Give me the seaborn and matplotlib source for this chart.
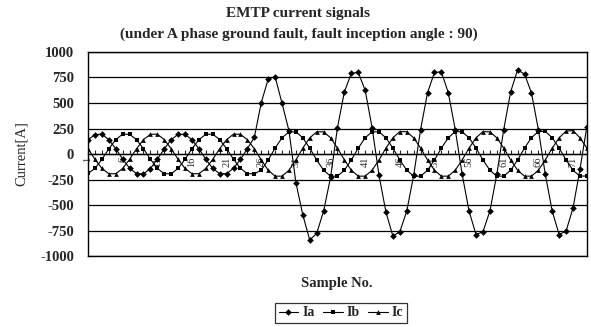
import matplotlib
matplotlib.use('Agg')
import matplotlib.pyplot as plt
import pandas as pd
import seaborn as sns

# sample numbers 1..73 (EMTP output, 12 samples per cycle)
samples = list(range(1, 74))

# values, in amperes
ia = [141, 190, 195, 140, 52, -50, -140, -192, -195, -142,
      -52, 50, 141, 193, 192, 140, 52, -52, -141, -193,
      -192, -140, -52, 52, 163, 503, 735, 758, 497, 228,
      -280, -598, -843, -778, -560, -230, 258, 610, 790, 800,
      625, 258, -210, -570, -804, -762, -560, -210, 240, 600,
      800, 805, 600, 240, -200, -560, -790, -762, -560, -200,
      240, 610, 824, 784, 600, 240, -200, -560, -790, -755,
      -530, -150, 268]
ib = [-190, -141, -52, 52, 141, 195, 193, 140, 52, -52,
      -141, -193, -194, -141, -52, 52, 141, 193, 195, 141,
      52, -52, -140, -193, -193, -159, -58, 58, 159, 217,
      217, 159, 58, -58, -159, -217, -217, -159, -58, 58,
      159, 218, 217, 159, 58, -58, -159, -217, -218, -159,
      -58, 58, 159, 220, 217, 159, 58, -58, -159, -217,
      -217, -159, -58, 58, 160, 220, 222, 159, 58, -58,
      -159, -217, -215]
ic = [52, -52, -141, -193, -193, -141, -52, 52, 141, 193,
      195, 141, 52, -52, -141, -193, -193, -141, -52, 52,
      141, 195, 193, 141, 52, -58, -159, -217, -217, -159,
      -58, 58, 159, 217, 218, 159, 58, -58, -159, -217,
      -217, -159, -58, 58, 159, 220, 218, 159, 58, -58,
      -159, -217, -217, -159, -58, 58, 159, 220, 217, 159,
      58, -58, -159, -217, -217, -159, -58, 58, 159, 225,
      230, 159, 58]

y_ticks = [-1000, -750, -500, -250, 0, 250, 500, 750, 1000]
x_label_ticks = list(range(1, 74, 5))

df = pd.DataFrame({
    'sample': samples * 3,
    'current': ia + ib + ic,
    'phase': ['Ia'] * len(ia) + ['Ib'] * len(ib) + ['Ic'] * len(ic),
})

sns.set_style('white')
plt.rcParams['font.family'] = ['Liberation Serif', 'DejaVu Serif']

fig = plt.figure(figsize=(5.91, 3.27), dpi=100)
ax = fig.add_axes([0.149, 0.217, 0.844, 0.624])

sns.lineplot(data=df, x='sample', y='current', hue='phase', style='phase',
             palette={'Ia': 'black', 'Ib': 'black', 'Ic': 'black'},
             markers={'Ia': 'D', 'Ib': 's', 'Ic': '^'}, dashes=False,
             markersize=3.4, markeredgewidth=0, linewidth=0.8, ax=ax, legend=False)

ax.set_xlim(1, 73)
ax.set_ylim(-1000, 1000)
ax.set_yticks(y_ticks)
ax.set_yticklabels([str(v) for v in y_ticks], fontsize=10.5, fontweight='bold')
ax.tick_params(axis='y', length=0, pad=10)
ax.set_xticks([])
ax.set_xlabel('')
ax.set_ylabel('Current[A]', fontsize=10.5, labelpad=9)
ax.set_axisbelow(True)
ax.yaxis.grid(True, color='black', linewidth=0.9)
for sp in ax.spines.values():
    sp.set_visible(True)
    sp.set_color('black')
    sp.set_linewidth(1.0)

# category axis crossing at zero
sec = ax.secondary_xaxis(0.5)
sec.set_alignment('bottom')
sec.set_xticks(x_label_ticks)
sec.set_xticklabels([str(v) for v in x_label_ticks], rotation=90, fontsize=7.5)
sec.set_xticks(samples, minor=True)
sec.tick_params(which='both', direction='in', length=3, width=0.8, pad=2)
sec.spines['bottom'].set_linewidth(1.0)

fig.text(0.505, 1 - 14 / 327, 'EMTP current signals', ha='center', va='center',
         fontsize=11, fontweight='bold')
fig.text(0.505, 1 - 34 / 327, '(under A phase ground fault, fault inception angle : 90)',
         ha='center', va='center', fontsize=11, fontweight='bold')
fig.text(0.57, 1 - 283 / 327, 'Sample No.', ha='center', va='center',
         fontsize=10.5, fontweight='bold')

handles = [plt.Line2D([], [], color='black', lw=0.8, marker=m, markersize=3.4,
                      markeredgewidth=0) for m in ['D', 's', '^']]
leg = fig.legend(handles, ['Ia', 'Ib', 'Ic'], loc='center',
                 bbox_to_anchor=(0.577, 1 - 313 / 327), ncol=3, frameon=True,
                 fancybox=False, handlelength=1.4, handletextpad=0.3,
                 columnspacing=0.6, borderpad=0.25, prop={'size': 10, 'weight': 'bold'})
leg.get_frame().set_edgecolor('black')
leg.get_frame().set_linewidth(0.9)

fig.savefig('out.png', dpi=100)
